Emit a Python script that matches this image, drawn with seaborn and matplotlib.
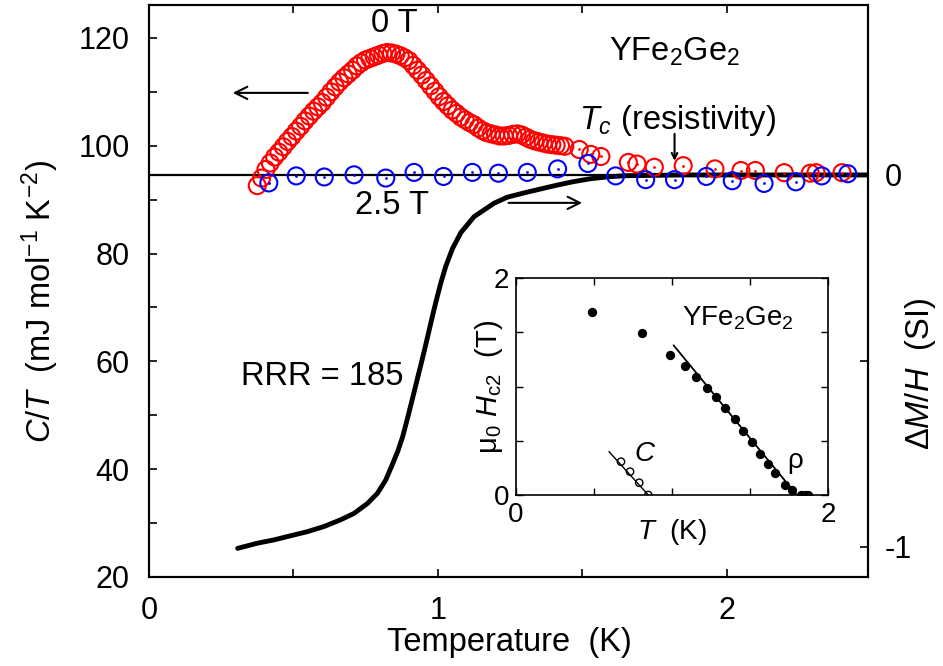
import numpy as np
import pandas as pd
import matplotlib
matplotlib.use("Agg")
import matplotlib.pyplot as plt
import seaborn as sns
from matplotlib.ticker import MultipleLocator, FixedLocator

# ---------------- data ----------------
# 0 T specific heat C/T (mJ mol^-1 K^-2), left axis
t_0T = [0.375, 0.39, 0.405, 0.42, 0.435, 0.45, 0.465, 0.48, 0.495, 0.51, 0.525, 0.54,
        0.555, 0.57, 0.585, 0.60, 0.615, 0.63, 0.645, 0.66, 0.675, 0.69, 0.705, 0.72,
        0.735, 0.75, 0.765, 0.78, 0.795, 0.81, 0.825, 0.84, 0.855, 0.87, 0.885, 0.90,
        0.915, 0.93, 0.945, 0.96, 0.975, 0.99, 1.005, 1.02, 1.035, 1.05, 1.065, 1.08,
        1.095, 1.11, 1.125, 1.14, 1.155, 1.17, 1.185, 1.20, 1.215, 1.23, 1.245, 1.26,
        1.275, 1.29, 1.305, 1.32, 1.335, 1.35, 1.365, 1.38, 1.395, 1.41, 1.425, 1.44,
        1.49, 1.53, 1.565, 1.66, 1.69, 1.75, 1.85, 1.96, 2.05, 2.10, 2.20, 2.29, 2.31, 2.40]
c_0T = [92.6, 94.0, 95.6, 96.8, 97.9, 98.8, 99.8, 100.8, 101.7, 102.7, 103.6, 104.6,
        105.5, 106.4, 107.2, 108.0, 109.0, 110.0, 110.9, 111.8, 112.6, 113.3, 114.0, 114.8,
        115.4, 115.9, 116.2, 116.5, 116.8, 117.1, 117.3, 117.2, 117.0, 116.7, 116.3, 115.8,
        114.9, 114.0, 113.1, 112.1, 111.1, 110.1, 109.1, 108.2, 107.4, 106.6, 106.0, 105.3,
        104.8, 104.3, 103.9, 103.3, 102.8, 102.4, 102.2, 102.0, 101.8, 101.8, 101.9, 102.1,
        102.2, 102.0, 101.6, 101.2, 100.9, 100.7, 100.5, 100.3, 100.2, 100.1, 100.0, 99.9,
        99.3, 98.4, 98.0, 96.9, 96.6, 96.0, 96.3, 95.7, 95.4, 95.4, 95.0, 94.9, 95.0, 95.0]

# 2.5 T specific heat C/T, left axis
t_25T = [0.415, 0.51, 0.607, 0.71, 0.82, 0.918, 1.02, 1.12, 1.21, 1.31, 1.415, 1.52,
         1.616, 1.72, 1.82, 1.93, 2.02, 2.13, 2.24, 2.33, 2.42]
c_25T = [93.1, 94.4, 94.2, 94.6, 94.0, 95.05, 94.3, 95.05, 94.9, 95.05, 95.7, 96.7,
         94.4, 93.7, 93.7, 94.3, 93.5, 93.0, 93.3, 94.4, 94.8]

# magnetisation Delta M / H (SI), right axis
t_m = [0.307, 0.376, 0.434, 0.491, 0.549, 0.607, 0.664, 0.710, 0.757, 0.791, 0.820,
       0.843, 0.862, 0.878, 0.895, 0.909, 0.924, 0.941, 0.953, 0.964, 0.976, 0.987,
       0.999, 1.010, 1.028, 1.051, 1.080, 1.126, 1.195, 1.24, 1.30, 1.36, 1.415, 1.47,
       1.53, 1.59, 1.65, 1.75, 1.85, 2.00, 2.20, 2.40, 2.49]
dm_h = [-1.004, -0.990, -0.981, -0.970, -0.959, -0.945, -0.927, -0.910, -0.883, -0.856,
        -0.820, -0.778, -0.742, -0.705, -0.655, -0.612, -0.565, -0.512, -0.474, -0.438,
        -0.398, -0.362, -0.325, -0.292, -0.245, -0.198, -0.155, -0.112, -0.076, -0.060,
        -0.048, -0.037, -0.027, -0.018, -0.010, -0.005, -0.002, -0.001, 0.0, 0.0, 0.0,
        0.0, 0.0]

# inset: upper critical field
rho_t = [0.485, 0.806, 0.987, 1.083, 1.154, 1.222, 1.282, 1.34, 1.404, 1.457, 1.511,
         1.564, 1.617, 1.66, 1.724, 1.767, 1.83, 1.85, 1.87]
rho_h = [1.69, 1.49, 1.29, 1.19, 1.09, 0.99, 0.90, 0.80, 0.70, 0.59, 0.49, 0.38, 0.285,
         0.20, 0.092, 0.046, 0.0, 0.0, 0.0]
rho_fit_t = [1.01, 1.80]
rho_fit_h = [1.38, 0.0]
cp_t = [0.673, 0.731, 0.79, 0.848]
cp_h = [0.307, 0.215, 0.113, 0.0]
cp_fit_t = [0.596, 0.848]
cp_fit_h = [0.40, 0.0]

# ---------------- style ----------------
sns.set_theme(style="ticks")
plt.rcParams['font.family'] = ['Liberation Sans', 'DejaVu Sans']
plt.rcParams['mathtext.fontset'] = 'custom'
plt.rcParams['mathtext.rm'] = 'Liberation Sans'
plt.rcParams['mathtext.it'] = 'Liberation Sans:italic'
plt.rcParams['mathtext.bf'] = 'Liberation Sans:bold'
for k in ['text.color', 'axes.labelcolor', 'xtick.color', 'ytick.color', 'axes.edgecolor']:
    plt.rcParams[k] = 'black'
FST = 22      # tick labels
FS = 23.5     # texts
FSI = 20      # inset

fig = plt.figure(figsize=(9.43, 6.66), dpi=100)
fig.patch.set_facecolor('white')
ax = fig.add_axes([149/943, 1-577/666, (868-149)/943, (577-5)/666])
ax2 = ax.twinx()
ax.set_zorder(ax2.get_zorder() + 1)
ax.patch.set_visible(False)

# right axis: magnetisation
ax2.axhline(0, color='black', lw=1.6, zorder=1)
sns.lineplot(x=t_m, y=dm_h, ax=ax2, color='black', lw=3.5, sort=False, zorder=2)
ax2.set_ylim(-1.081, 0.457)
ax2.yaxis.set_major_locator(FixedLocator([-1, 0]))
ax2.yaxis.set_minor_locator(FixedLocator([-0.5]))
ax2.set_yticklabels(['-1', '0'])
ax2.set_ylabel('')

# left axis: specific heat
sns.scatterplot(x=t_0T, y=c_0T, ax=ax, marker='o', s=150, facecolor='none',
                edgecolor='red', linewidth=1.5, zorder=3)
sns.scatterplot(x=t_25T, y=c_25T, ax=ax, marker='o', s=150, facecolor='none',
                edgecolor='blue', linewidth=1.5, zorder=4)
sns.scatterplot(x=t_0T[72:], y=c_0T[72:], ax=ax, marker='o', s=4, color='red',
                linewidth=0, zorder=3)
sns.scatterplot(x=t_25T, y=c_25T, ax=ax, marker='o', s=4, color='blue',
                linewidth=0, zorder=4)
ax.set_xlim(0, 2.49)
ax.set_ylim(20, 126.1)
ax.xaxis.set_major_locator(FixedLocator([0, 1, 2]))
ax.xaxis.set_minor_locator(FixedLocator([0.5, 1.5]))
ax.yaxis.set_major_locator(MultipleLocator(20))
ax.yaxis.set_minor_locator(MultipleLocator(10))
ax.set_xlabel('')
ax.set_ylabel('')

for a in (ax, ax2):
    for s in a.spines.values():
        s.set_linewidth(1.5)
        s.set_color('black')
ax.tick_params(axis='both', which='both', direction='in', length=6, width=1.2,
               top=True, labelsize=FST, pad=14, colors='black')
ax2.tick_params(axis='y', which='both', direction='in', length=6, width=1.2,
                labelsize=FST, pad=12, colors='black')

# annotations
ax.annotate('', xy=(0.29, 109.8), xytext=(0.55, 109.8),
            arrowprops=dict(arrowstyle='->', lw=1.5, color='black',
                            mutation_scale=22, shrinkA=0, shrinkB=0))
ax2.annotate('', xy=(1.50, -0.075), xytext=(1.245, -0.075),
             arrowprops=dict(arrowstyle='->', lw=1.5, color='black',
                             mutation_scale=22, shrinkA=0, shrinkB=0))
ax.annotate('', xy=(1.82, 97.2), xytext=(1.82, 102.2),
            arrowprops=dict(arrowstyle='->', lw=1.5, color='black',
                            mutation_scale=10, shrinkA=0, shrinkB=0))
ax.text(0.85, 122.6, '0 T', fontsize=FS, ha='center', va='center')
ax.text(0.84, 88.9, '2.5 T', fontsize=FS, ha='center', va='center')
ax.text(1.82, 117.4, r'YFe$_2$Ge$_2$', fontsize=FS, ha='center', va='center')
ax.text(1.83, 104.6, r'$T_c$ (resistivity)', fontsize=FS, ha='center', va='center')
ax.text(0.60, 57.1, 'RRR = 185', fontsize=FS, ha='center', va='center')

fig.text(40/943, 1-302/666, r'$C/T$  (mJ mol$^{-1}$ K$^{-2}$)', rotation=90,
         fontsize=FS, ha='center', va='center')
fig.text(921/943, 1-374/666, r'$\Delta M/H$  (SI)', rotation=90,
         fontsize=FS, ha='center', va='center')
fig.text(509/943, 1-643/666, 'Temperature  (K)', fontsize=FS, ha='center', va='center')

# ---------------- inset ----------------
axi = fig.add_axes([516/943, 1-495/666, (828-516)/943, (495-278)/666])
axi.set_zorder(ax.get_zorder() + 1)
axi.patch.set_facecolor('white')
sns.lineplot(x=rho_fit_t, y=rho_fit_h, ax=axi, color='black', lw=1.3)
sns.lineplot(x=cp_fit_t, y=cp_fit_h, ax=axi, color='black', lw=1.0)
sns.scatterplot(x=rho_t, y=rho_h, ax=axi, marker='o', s=45, color='black',
                linewidth=0, zorder=3)
sns.scatterplot(x=cp_t, y=cp_h, ax=axi, marker='o', s=28, facecolor='none',
                edgecolor='black', linewidth=1.0, zorder=3)
axi.set_xlim(0, 2)
axi.set_ylim(0, 2)
axi.xaxis.set_major_locator(FixedLocator([0, 2]))
axi.xaxis.set_minor_locator(FixedLocator([0.5, 1.0, 1.5]))
axi.yaxis.set_major_locator(FixedLocator([0, 2]))
axi.yaxis.set_minor_locator(FixedLocator([0.5, 1.0, 1.5]))
axi.tick_params(axis='both', which='both', direction='in', length=5, width=1.0,
                top=True, right=True, labelsize=FSI, pad=5, colors='black')
for s in axi.spines.values():
    s.set_linewidth(1.2)
    s.set_color('black')
axi.set_xlabel(r'$T$  (K)', fontsize=FSI, labelpad=-8)
axi.set_ylabel(r'μ$_0$ $H_{\mathrm{c2}}$  (T)', fontsize=FSI + 1, labelpad=-8)
axi.text(1.42, 1.63, r'YFe$_2$Ge$_2$', fontsize=FSI, ha='center', va='center')
axi.text(0.83, 0.38, r'$C$', fontsize=FSI, ha='center', va='center')
axi.text(1.79, 0.31, 'ρ', fontsize=FSI, ha='center', va='center')

fig.savefig('out.png', dpi=100, facecolor='white')
